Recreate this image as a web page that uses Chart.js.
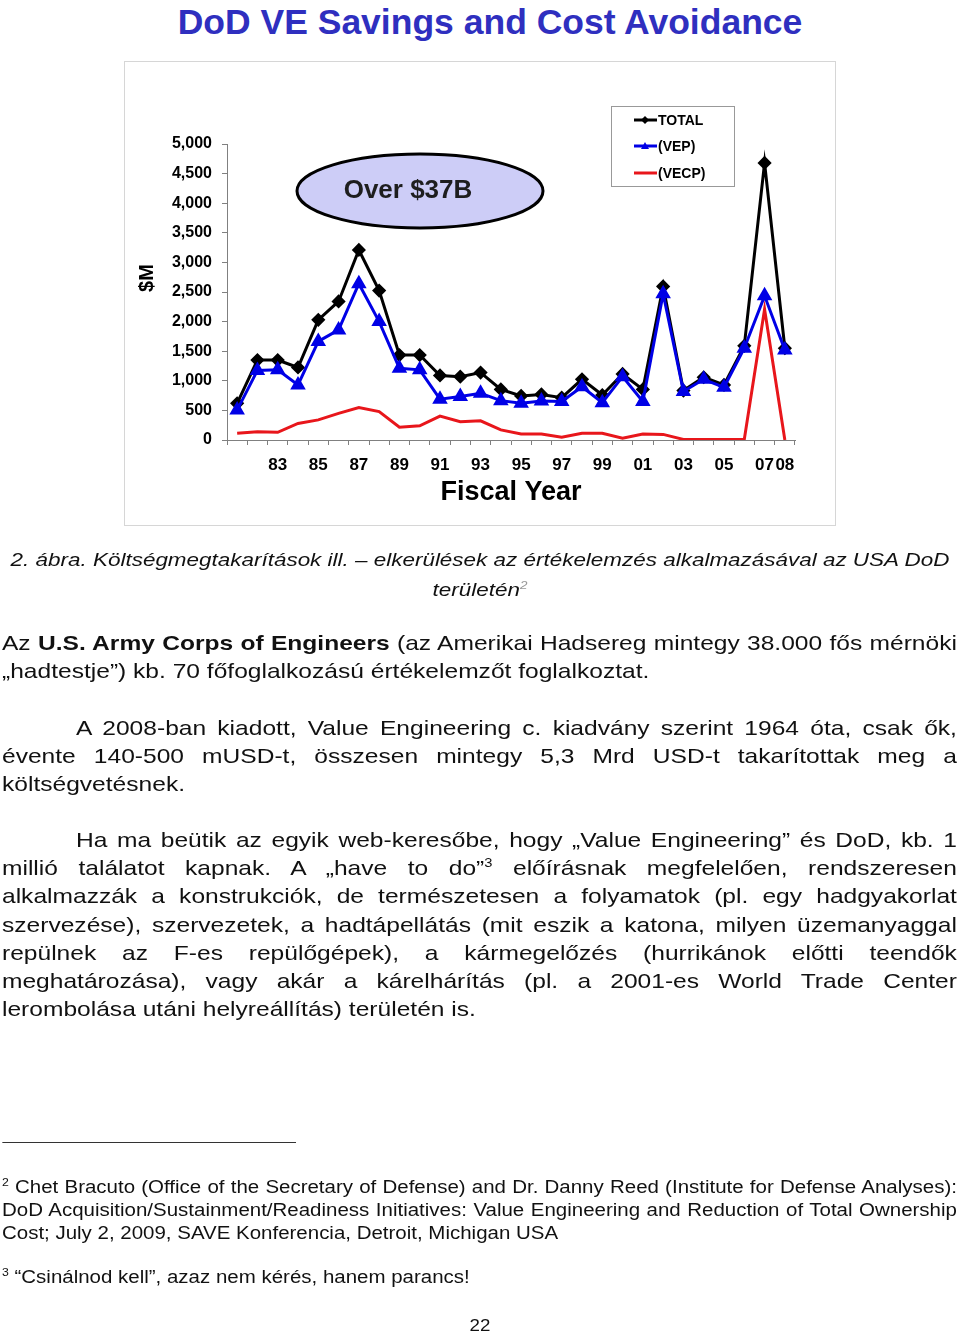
<!DOCTYPE html>
<html>
<head>
<meta charset="utf-8">
<script src="https://cdn.jsdelivr.net/npm/chart.js@4.4.0/dist/chart.umd.min.js"></script>
<style>
  body { margin: 0; background: #fff; width: 960px; height: 1333px; position: relative; overflow: hidden;
         font-family: "Liberation Sans", Arial, sans-serif; color: #111; }
  h1 { position: absolute; left: 0; width: 980px; top: 1px; margin: 0; text-align: center;
       font-size: 35.5px; line-height: 42px; color: #2f2fbf; font-weight: bold; }
  #frame { position: absolute; left: 124px; top: 61px; width: 710px; height: 463px; border: 1px solid #d6d6d6; }
  #frame canvas { display: block; }
  /* page text is a little wider than plain Arial, so stretch it horizontally */
  #page { position: absolute; left: 0; top: 0; width: 820.5px; height: 1333px;
          transform: scaleX(1.17); transform-origin: 0 0; }
  .t { position: absolute; white-space: nowrap; line-height: 28px; font-size: 21px; left: 1.7px; }
  .j { width: 816.2px; text-align: justify; text-align-last: justify; }
  .in { left: 65px; width: 752.9px; }
  .cap { font-style: italic; font-size: 19.2px; left: 0; width: 820.5px; text-align: center; }
  .fn { font-size: 17.5px; line-height: 23px; }
  sup { font-size: 60%; line-height: 0; }
</style>
</head>
<body>
<h1>DoD VE Savings and Cost Avoidance</h1>
<div id="frame"><canvas id="myChart" width="710" height="463"></canvas></div>

<div id="page">
<div class="t cap" style="top:546px">2. ábra. Költségmegtakarítások ill. – elkerülések az értékelemzés alkalmazásával az USA DoD</div>
<div class="t cap" style="top:576px">területén<sup style="color:#999">2</sup></div>

<div class="t j" style="top:629px">Az <b>U.S. Army Corps of Engineers</b> (az Amerikai Hadsereg mintegy 38.000 fős mérnöki</div>
<div class="t" style="top:657px">„hadtestje”) kb. 70 főfoglalkozású értékelemzőt foglalkoztat.</div>

<div class="t j in" style="top:714px">A 2008-ban kiadott, Value Engineering c. kiadvány szerint 1964 óta, csak ők,</div>
<div class="t j" style="top:742px">évente 140-500 mUSD-t, összesen mintegy 5,3 Mrd USD-t takarítottak meg a</div>
<div class="t" style="top:770px">költségvetésnek.</div>

<div class="t j in" style="top:826px">Ha ma beütik az egyik web-keresőbe, hogy „Value Engineering” és DoD, kb. 1</div>
<div class="t j" style="top:854px">millió találatot kapnak. A „have to do”<sup>3</sup> előírásnak megfelelően, rendszeresen</div>
<div class="t j" style="top:882px">alkalmazzák a konstrukciók, de természetesen a folyamatok (pl. egy hadgyakorlat</div>
<div class="t j" style="top:911px">szervezése), szervezetek, a hadtápellátás (mit eszik a katona, milyen üzemanyaggal</div>
<div class="t j" style="top:939px">repülnek az F-es repülőgépek), a kármegelőzés (hurrikánok előtti teendők</div>
<div class="t j" style="top:967px">meghatározása), vagy akár a kárelhárítás (pl. a 2001-es World Trade Center</div>
<div class="t" style="top:995px">lerombolása utáni helyreállítás) területén is.</div>

<div style="position:absolute;left:1.7px;top:1142px;width:251px;height:1px;background:#333"></div>
<div class="t fn j" style="top:1176px"><sup>2</sup> Chet Bracuto (Office of the Secretary of Defense) and Dr. Danny Reed (Institute for Defense Analyses):</div>
<div class="t fn j" style="top:1199px">DoD Acquisition/Sustainment/Readiness Initiatives: Value Engineering and Reduction of Total Ownership</div>
<div class="t fn" style="top:1222px">Cost; July 2, 2009, SAVE Konferencia, Detroit, Michigan USA</div>
<div class="t fn" style="top:1266px"><sup>3</sup> “Csinálnod kell”, azaz nem kérés, hanem parancs!</div>
<div class="t fn" style="top:1314px;left:0;width:820.5px;text-align:center;font-size:16px">22</div>
</div>

<script>
// fiscal years (categories)
const years = ['1981', '1982', '1983', '1984', '1985', '1986', '1987', '1988', '1989', '1990',
               '1991', '1992', '1993', '1994', '1995', '1996', '1997', '1998', '1999', '2000',
               '2001', '2002', '2003', '2004', '2005', '2006', '2007', '2008'];
// years that get a label on the x axis
const shownYears = ['1983', '1985', '1987', '1989', '1991', '1993', '1995', '1997', '1999',
                    '2001', '2003', '2005', '2007', '2008'];

// $M
const totalValues = [620, 1350, 1350, 1225, 2030, 2340, 3210, 2525, 1435, 1435,
                     1090, 1070, 1140, 855, 745, 770, 715, 1025, 760, 1115,
                     855, 2595, 835, 1060, 930, 1590, 4680, 1550];
const vepValues = [505, 1175, 1185, 930, 1665, 1860, 2640, 2000, 1210, 1185,
                   690, 735, 790, 665, 620, 660, 650, 900, 630, 1070,
                   650, 2470, 820, 1025, 890, 1550, 2435, 1520];
const vecpValues = [115, 140, 130, 280, 340, 450, 550, 480, 215, 240,
                    405, 310, 325, 170, 100, 100, 45, 115, 115, 30,
                    100, 95, 10, 10, 10, 10, 2210, 0];

const seriesLabels = ['TOTAL', '(VEP)', '(VECP)'];
const calloutText = 'Over $37B';
const yTitle = '$M';

const FONT = '"Liberation Sans", Arial, sans-serif';

// callout ellipse, y title and boxed legend, drawn on top of the chart
const decorPlugin = {
    id: 'decor',
    afterDraw(chart) {
        const ctx = chart.ctx;
        ctx.save();

        // ellipse
        ctx.beginPath();
        ctx.ellipse(295, 129, 123, 37, 0, 0, Math.PI * 2);
        ctx.fillStyle = '#cdcdf7';
        ctx.fill();
        ctx.lineWidth = 3;
        ctx.strokeStyle = '#000';
        ctx.stroke();
        ctx.fillStyle = '#1e1e1e';
        ctx.font = 'bold 26px ' + FONT;
        ctx.textAlign = 'center';
        ctx.textBaseline = 'middle';
        ctx.fillText(calloutText, 283, 129);

        // rotated y title
        ctx.save();
        ctx.translate(22, 216);
        ctx.rotate(-Math.PI / 2);
        ctx.fillStyle = '#000';
        ctx.font = 'bold 20px ' + FONT;
        ctx.fillText(yTitle, 0, 0);
        ctx.restore();

        // legend box
        ctx.fillStyle = '#fff';
        ctx.fillRect(486.5, 44.5, 123, 80);
        ctx.lineWidth = 1;
        ctx.strokeStyle = '#999';
        ctx.strokeRect(486.5, 44.5, 123, 80);

        ctx.textAlign = 'left';
        ctx.font = 'bold 14px ' + FONT;
        const rows = [58, 84, 111];
        chart.data.datasets.forEach((ds, i) => {
            const y = rows[i];
            ctx.strokeStyle = ds.borderColor;
            ctx.lineWidth = 3;
            ctx.beginPath();
            ctx.moveTo(509, y);
            ctx.lineTo(532, y);
            ctx.stroke();
            ctx.fillStyle = ds.borderColor;
            if (ds.pointStyle === 'rectRot') {
                ctx.beginPath();
                ctx.moveTo(520, y - 4); ctx.lineTo(524, y); ctx.lineTo(520, y + 4); ctx.lineTo(516, y);
                ctx.closePath(); ctx.fill();
            } else if (ds.pointStyle === 'triangle') {
                ctx.beginPath();
                ctx.moveTo(520, y - 4); ctx.lineTo(524, y + 3); ctx.lineTo(516, y + 3);
                ctx.closePath(); ctx.fill();
            }
            ctx.fillStyle = '#000';
            ctx.fillText(ds.label, 533, y + 1);
        });
        ctx.restore();
    }
};

window.addEventListener('load', function() {
    const ctx = document.getElementById('myChart').getContext('2d');
    new Chart(ctx, {
        type: 'line',
        data: {
            labels: years,
            datasets: [
                { label: seriesLabels[0], data: totalValues, borderColor: '#000', backgroundColor: '#000',
                  borderWidth: 3, pointStyle: 'rectRot', pointRadius: 5, order: 2 },
                { label: seriesLabels[1], data: vepValues, borderColor: '#0000e6', backgroundColor: '#0000e6',
                  borderWidth: 3, pointStyle: 'triangle', pointRadius: 6, order: 1 },
                { label: seriesLabels[2], data: vecpValues, borderColor: '#e8161b', backgroundColor: '#e8161b',
                  borderWidth: 3, pointRadius: 0, order: 3 }
            ]
        },
        options: {
            responsive: false,
            animation: false,
            tension: 0,
            layout: { padding: { left: 0, right: 40, top: 82, bottom: 0 } },
            scales: {
                x: {
                    offset: true,
                    grid: { offset: true, drawOnChartArea: false, tickLength: 5, color: '#808080' },
                    border: { color: '#808080' },
                    ticks: {
                        autoSkip: false, maxRotation: 0, padding: 10, color: '#000',
                        font: { family: FONT, size: 17, weight: 'bold' },
                        callback: function(v, i) {
                            return shownYears.includes(years[i]) ? years[i].slice(2) : '';
                        }
                    },
                    title: { display: true, text: 'Fiscal Year', color: '#000',
                             font: { family: FONT, size: 27, weight: 'bold' }, padding: { top: 0, bottom: 16 } },
                    afterFit: s => { s.height = 85; }
                },
                y: {
                    min: 0, max: 5000,
                    grid: { drawOnChartArea: false, tickLength: 5, color: '#808080' },
                    border: { color: '#808080' },
                    ticks: {
                        stepSize: 500, padding: 10, color: '#000',
                        font: { family: FONT, size: 16, weight: 'bold' },
                        callback: v => v.toLocaleString('en-US')
                    },
                    afterFit: s => { s.width = 102; }
                }
            },
            plugins: {
                legend: { display: false },
                tooltip: { enabled: false }
            }
        },
        plugins: [decorPlugin]
    });
});
</script>
</body>
</html>
